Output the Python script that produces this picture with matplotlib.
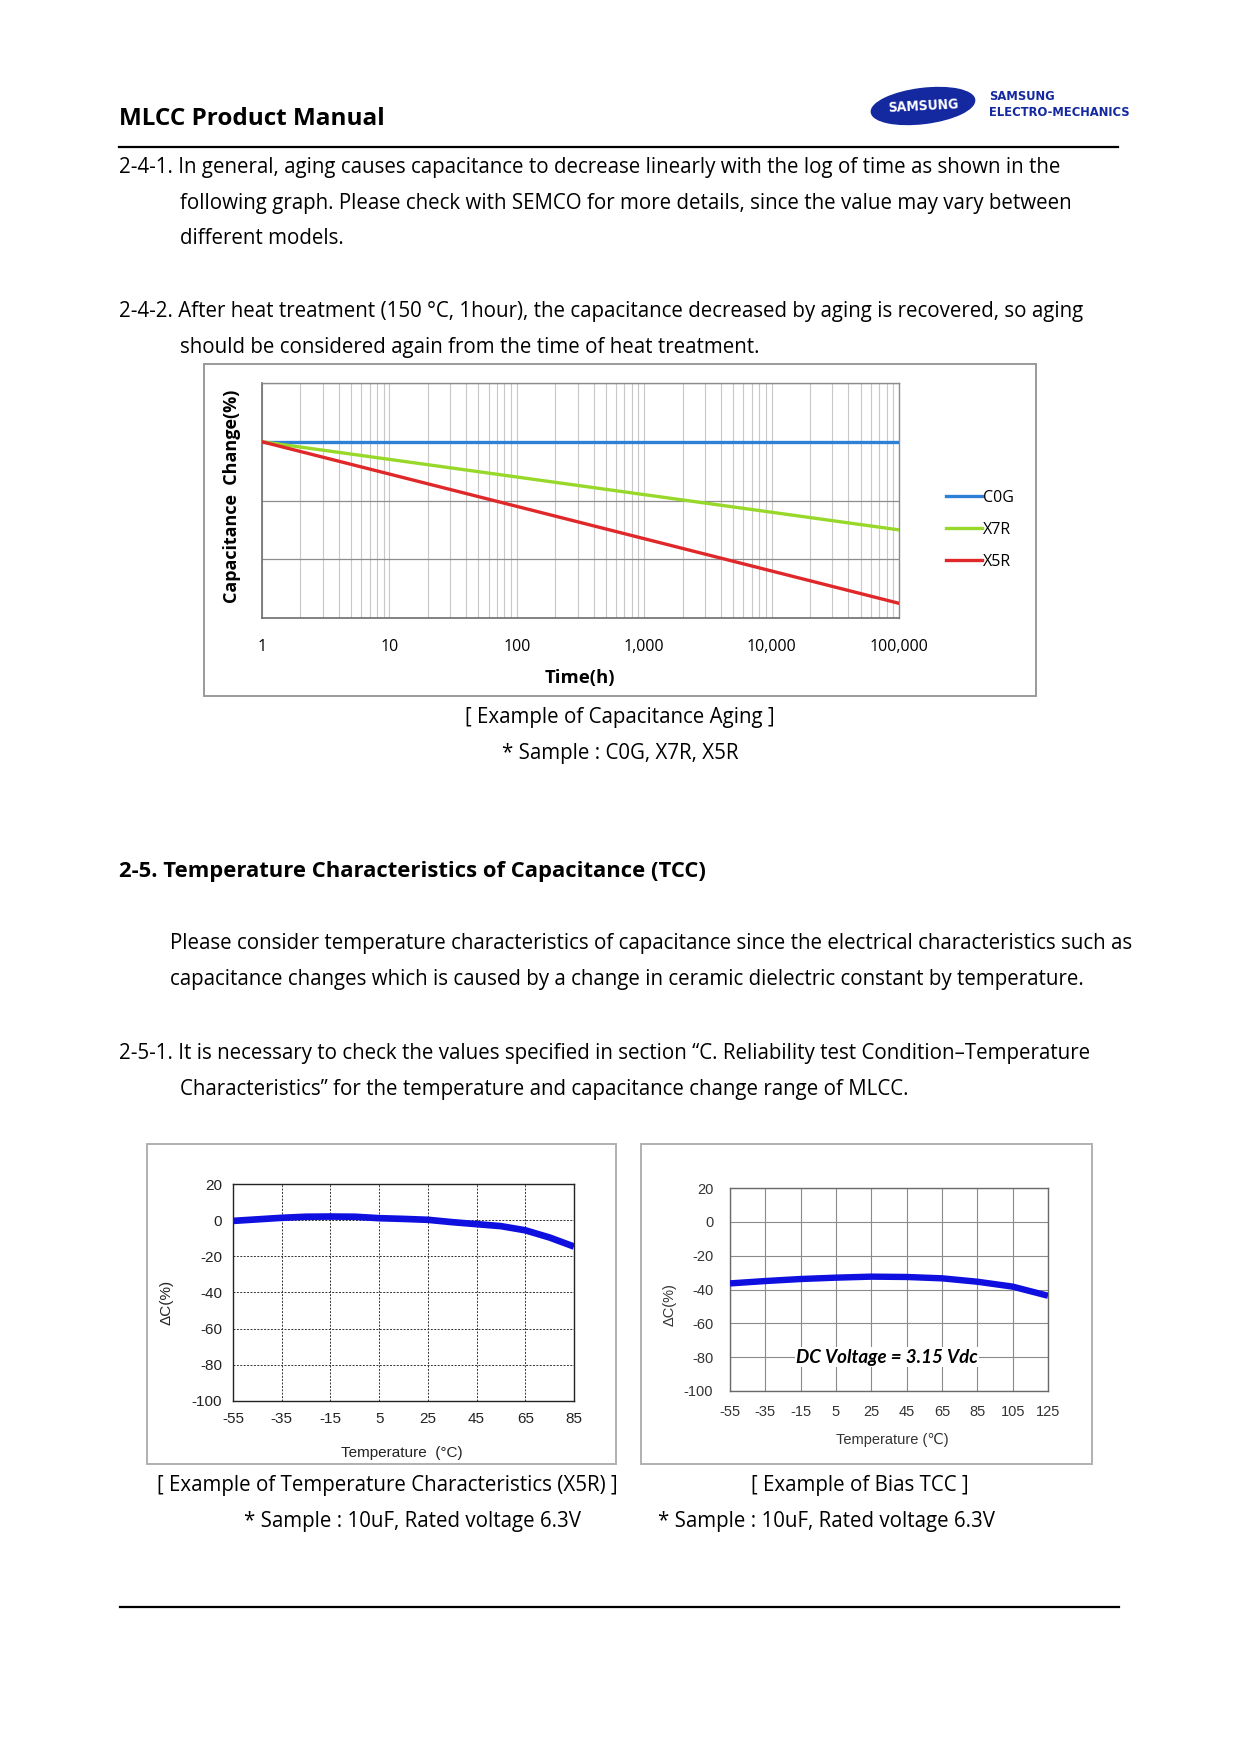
import numpy as np
import matplotlib
matplotlib.use('Agg')
import matplotlib.pyplot as plt
from matplotlib.patches import Rectangle, Ellipse
from matplotlib.ticker import FixedLocator, LogLocator, NullFormatter
from matplotlib.lines import Line2D

plt.rcParams['axes.unicode_minus'] = False

# page size in pixels
W, H = 1241, 1754

# aging chart data
aging_hours = [1, 10, 100, 1000, 10000, 100000]
aging_tick_labels = ['1', '10', '100', '1,000', '10,000', '100,000']
aging_c0g = [0, 0, 0, 0, 0, 0]
aging_x7r = [0, -0.3, -0.6, -0.9, -1.2, -1.5]
aging_x5r = [0, -0.55, -1.1, -1.65, -2.2, -2.75]
aging_names = ['C0G', 'X7R', 'X5R']

# temperature characteristics (X5R)
tcc_temp = [-55, -35, -25, -15, -5, 5, 15, 25, 35, 45, 55, 65, 75, 85]
tcc_dc = [-0.4, 1.3, 1.9, 2.0, 1.9, 1.1, 0.7, 0.2, -1.1, -2.2, -3.3, -5.6, -9.6, -14.6]
tcc_xticks = [-55, -35, -15, 5, 25, 45, 65, 85]

# bias TCC
bias_temp = [-55, -35, -15, 5, 25, 45, 65, 85, 105, 125]
bias_dc = [-36.4, -35.0, -33.8, -33.0, -32.4, -32.6, -33.4, -35.4, -38.3, -43.7]
bias_xticks = [-55, -35, -15, 5, 25, 45, 65, 85, 105, 125]

dc_yticks = [20, 0, -20, -40, -60, -80, -100]

BODY = ['Open Sans', 'DejaVu Sans']
ARIAL = ['Liberation Sans', 'DejaVu Sans']
LOGO = dict(family='DejaVu Sans', stretch='condensed', fontweight='bold')
BODY_SIZE = 14.8


def rect(l, t, r, b):
    return [l / W, 1 - b / H, (r - l) / W, (b - t) / H]


fig = plt.figure(figsize=(W / 100, H / 100), dpi=100)
fig.patch.set_facecolor('white')

# page layer in pixel coordinates
page = fig.add_axes([0, 0, 1, 1], zorder=0)
page.set_xlim(0, W)
page.set_ylim(H, 0)
page.axis('off')

# header
page.text(119, 119, 'MLCC Product Manual', fontsize=17.5, fontweight='bold',
          family=BODY, va='center', ha='left')
page.plot([119, 1118], [147, 147], color='black', lw=1.6)
page.plot([120, 1119], [1607, 1607], color='black', lw=1.6)
page.add_patch(Ellipse((923, 106), 104, 35, angle=-7, color='#1428a0'))
page.text(923, 106, 'SAMSUNG', color='white', fontsize=10, ha='center', va='center',
          rotation=3, **LOGO)
page.text(989, 97, 'SAMSUNG', color='#1428a0', fontsize=9.3, ha='left', va='center', **LOGO)
page.text(989, 112, 'ELECTRO-MECHANICS', color='#1428a0', fontsize=9.3, ha='left', va='center', **LOGO)

body_lines = [
    (119, 167, '2-4-1. In general, aging causes capacitance to decrease linearly with the log of time as shown in the'),
    (180, 203, 'following graph. Please check with SEMCO for more details, since the value may vary between'),
    (180, 238, 'different models.'),
    (119, 311, '2-4-2. After heat treatment (150 °C, 1hour), the capacitance decreased by aging is recovered, so aging'),
    (180, 347, 'should be considered again from the time of heat treatment.'),
    (170, 944, 'Please consider temperature characteristics of capacitance since the electrical characteristics such as'),
    (170, 980, 'capacitance changes which is caused by a change in ceramic dielectric constant by temperature.'),
    (119, 1053, '2-5-1. It is necessary to check the values specified in section \u201cC. Reliability test Condition\u2013Temperature'),
    (180, 1089, 'Characteristics\u201d for the temperature and capacitance change range of MLCC.'),
]
for x, y, s in body_lines:
    page.text(x, y, s, fontsize=BODY_SIZE, family=BODY, va='center', ha='left')

page.text(119, 871, '2-5. Temperature Characteristics of Capacitance (TCC)', fontsize=15.8,
          fontweight='bold', family=BODY, va='center', ha='left')

captions = [
    (620, 717, '[ Example of Capacitance Aging ]'),
    (620, 753, '* Sample : C0G, X7R, X5R'),
    (387, 1486, '[ Example of Temperature Characteristics (X5R) ]'),
    (413, 1522, '* Sample : 10uF, Rated voltage 6.3V'),
    (860, 1486, '[ Example of Bias TCC ]'),
    (826, 1522, '* Sample : 10uF, Rated voltage 6.3V'),
]
for x, y, s in captions:
    page.text(x, y, s, fontsize=BODY_SIZE, family=BODY, va='center', ha='center')

# chart frames
page.add_patch(Rectangle((204, 364), 832, 332, fill=False, ec='#9a9a9a', lw=1.4))
page.add_patch(Rectangle((147, 1144), 469, 320, fill=False, ec='#b0b0b0', lw=1.4))
page.add_patch(Rectangle((641, 1144), 451, 320, fill=False, ec='#b0b0b0', lw=1.4))

# ---- aging chart ----
ax = fig.add_axes(rect(262, 383, 899, 618), zorder=2)
colors = ['#2e7fd6', '#98d82a', '#e0282a']
for vals, c, name in zip([aging_c0g, aging_x7r, aging_x5r], colors, aging_names):
    ax.plot(aging_hours, vals, color=c, lw=2.4, label=name, zorder=3)
ax.set_xscale('log')
ax.set_xlim(1, 1e5)
ax.set_ylim(-3, 1)
ax.xaxis.set_major_locator(FixedLocator(aging_hours))
ax.set_xticklabels(aging_tick_labels, family=BODY, fontsize=11.5)
ax.xaxis.set_minor_locator(LogLocator(base=10, subs=np.arange(2, 10)))
ax.xaxis.set_minor_formatter(NullFormatter())
ax.set_yticks([-3, -2, -1, 0, 1])
ax.set_yticklabels([])
ax.tick_params(which='both', length=0)
ax.tick_params(axis='x', pad=15)
ax.grid(True, axis='x', which='both', color='#c8c8c8', lw=0.8)
ax.grid(True, axis='y', which='major', color='#8c8c8c', lw=0.9)
for s in ['left', 'bottom']:
    ax.spines[s].set_color('#6e6e6e')
    ax.spines[s].set_linewidth(1.2)
for s in ['top', 'right']:
    ax.spines[s].set_color('#8c8c8c')
    ax.spines[s].set_linewidth(1.0)
page.text(580, 678, 'Time(h)', fontsize=13.3, fontweight='bold', family=BODY, ha='center', va='center')
page.text(232, 496, 'Capacitance  Change(%)', fontsize=13, fontweight='bold', family=BODY,
          ha='center', va='center', rotation=90)
handles = [Line2D([], [], color=c, lw=2.4) for c in colors]
fig.legend(handles, aging_names, loc='center left', bbox_to_anchor=(932 / W, 1 - 530 / H),
           frameon=False, handlelength=2.2, handletextpad=0.1, labelspacing=1.0,
           prop={'family': BODY, 'size': 11.5})

# ---- temperature characteristics (X5R) ----
ax1 = fig.add_axes(rect(233, 1184, 574, 1401), zorder=2)
ax1.plot(tcc_temp, tcc_dc, color='#0f0fe0', lw=4.8, solid_capstyle='butt', zorder=3)
ax1.set_xlim(-55, 85)
ax1.set_ylim(-100, 20)
ax1.set_xticks(tcc_xticks)
ax1.set_yticks(dc_yticks)
ax1.grid(True, color='#333333', lw=0.7, linestyle=(0, (2, 1.5)))
ax1.tick_params(length=0, labelsize=11, labelcolor='#222222')
ax1.tick_params(axis='y', pad=8)
ax1.tick_params(axis='x', pad=8)
for lab in ax1.get_xticklabels() + ax1.get_yticklabels():
    lab.set_family(ARIAL)
for s in ax1.spines.values():
    s.set_color('#222222')
    s.set_linewidth(1.0)
page.text(402, 1453, 'Temperature  (°C)', fontsize=11, family=ARIAL, ha='center', va='center', color='#222222')
page.text(167, 1302, '\u0394C(%)', fontsize=11, family=ARIAL, ha='center', va='center',
          rotation=90, color='#222222')

# ---- bias TCC ----
ax2 = fig.add_axes(rect(730, 1188, 1048, 1391), zorder=2)
ax2.plot(bias_temp, bias_dc, color='#0f0fe0', lw=4.6, solid_capstyle='butt', zorder=3)
ax2.set_xlim(-55, 125)
ax2.set_ylim(-100, 20)
ax2.set_xticks(bias_xticks)
ax2.set_yticks(dc_yticks)
ax2.grid(True, color='#8a8a8a', lw=0.8)
ax2.tick_params(length=0, labelsize=10.5, labelcolor='#333333')
ax2.tick_params(axis='y', pad=12)
ax2.tick_params(axis='x', pad=10)
for lab in ax2.get_xticklabels() + ax2.get_yticklabels():
    lab.set_family(ARIAL)
for s in ax2.spines.values():
    s.set_color('#6a6a6a')
    s.set_linewidth(1.0)
ax2.text(34, -80, 'DC Voltage = 3.15 Vdc', fontsize=13.5, fontweight='bold', style='italic',
         family=['Lato', 'DejaVu Sans'], ha='center', va='center', zorder=4,
         bbox=dict(facecolor='white', edgecolor='none', pad=1))
page.text(892, 1440, 'Temperature (\u2103)', fontsize=10.5, family=['Liberation Sans', 'DejaVu Sans'],
          ha='center', va='center', color='#333333')
page.text(670, 1305, '\u0394C(%)', fontsize=10.5, family=ARIAL, ha='center', va='center',
          rotation=90, color='#333333')

fig.savefig('out.png', dpi=100)
